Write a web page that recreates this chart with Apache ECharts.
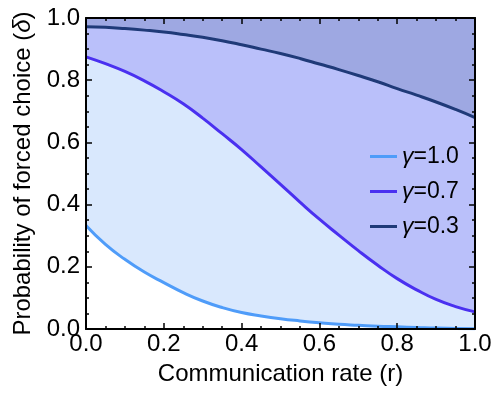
<!DOCTYPE html>
<html>
<head>
<meta charset="utf-8">
<script src="https://cdn.jsdelivr.net/npm/echarts@6/dist/echarts.min.js"></script>
<style>
  html, body { margin: 0; padding: 0; background: #fff; }
  #main { width: 498px; height: 394px; }
</style>
</head>
<body>
<div id="main"></div>
<script>
  // communication rate r
  const rate = [0, 0.05, 0.1, 0.15, 0.2, 0.25, 0.3, 0.35, 0.4, 0.45, 0.5,
    0.55, 0.6, 0.65, 0.7, 0.75, 0.8, 0.85, 0.9, 0.95, 1.0];
  // probability of forced choice for each gamma
  const gamma10 = [0.333, 0.272, 0.224, 0.183, 0.149, 0.117, 0.09, 0.069, 0.053, 0.042, 0.033,
    0.026, 0.02, 0.015, 0.012, 0.009, 0.007, 0.005, 0.003, 0.002, 0.001];
  const gamma07 = [0.875, 0.853, 0.828, 0.798, 0.763, 0.724, 0.678, 0.628, 0.577, 0.521, 0.465,
    0.408, 0.353, 0.302, 0.252, 0.205, 0.162, 0.126, 0.095, 0.072, 0.055];
  const gamma03 = [0.972, 0.97, 0.966, 0.961, 0.955, 0.947, 0.938, 0.927, 0.914, 0.9, 0.886,
    0.87, 0.852, 0.834, 0.815, 0.795, 0.773, 0.752, 0.73, 0.706, 0.68];
  const seriesNames = ["γ=1.0", "γ=0.7", "γ=0.3"];

  var chartDom = document.getElementById("main");
  var myChart = echarts.init(chartDom);
  var font = "Liberation Sans";
  var fs = 24;

  function pts(arr) {
    return rate.map((r, i) => [r, arr[i]]);
  }

  function makeAxis(pos, showLabel) {
    return {
      type: "value",
      position: pos,
      min: 0,
      max: 1,
      interval: 0.2,
      z: 10,
      axisLine: { show: true, onZero: false, lineStyle: { color: "#000", width: 2 } },
      axisTick: { show: true, inside: true, length: 6, lineStyle: { color: "#000", width: 1.5 } },
      minorTick: { show: true, splitNumber: 4, length: 3, lineStyle: { color: "#000", width: 1.5 } },
      splitLine: { show: false },
      axisLabel: {
        show: showLabel,
        color: "#000",
        fontFamily: font,
        fontSize: fs,
        margin: 3,
        formatter: (v) => v.toFixed(1),
      },
    };
  }

  var xBottom = makeAxis("bottom", true);
  xBottom.name = "Communication rate (r)";
  xBottom.nameLocation = "middle";
  xBottom.nameGap = 33;
  xBottom.nameTextStyle = { color: "#000", fontFamily: font, fontSize: fs };

  var yLeft = makeAxis("left", true);
  yLeft.axisLabel.margin = 6;
  yLeft.name = "Probability of forced choice ({i|δ})";
  yLeft.nameLocation = "middle";
  yLeft.nameGap = 48;
  yLeft.nameTextStyle = {
    color: "#000", fontFamily: font, fontSize: fs,
    rich: { i: { fontStyle: "italic", fontFamily: font, fontSize: fs, color: "#000" } },
  };

  var option = {
    animation: false,
    grid: {
      left: 86, right: 23, top: 18, bottom: 65,
      show: true, backgroundColor: "#9ea8e2", borderWidth: 0,
    },
    legend: {
      data: seriesNames,
      orient: "vertical",
      left: 365,
      top: 140,
      itemWidth: 27,
      itemHeight: 3,
      itemGap: 12,
      icon: "rect",
      textStyle: {
        color: "#000", fontFamily: font, fontSize: 23,
        rich: { i: { fontStyle: "italic", fontFamily: font, fontSize: 23, color: "#000" } },
      },
      formatter: (n) => "{i|γ}" + n.slice(1),
    },
    xAxis: [xBottom, makeAxis("top", false)],
    yAxis: [yLeft, makeAxis("right", false)],
    series: [
      {
        name: seriesNames[2], type: "line", data: pts(gamma03), symbol: "none",
        smooth: true, color: "#1f3a78",
        lineStyle: { width: 3, color: "#1f3a78" },
        areaStyle: { color: "#bac0fa", opacity: 1 },
      },
      {
        name: seriesNames[1], type: "line", data: pts(gamma07), symbol: "none",
        smooth: true, color: "#4a30f0",
        lineStyle: { width: 3, color: "#4a30f0" },
        areaStyle: { color: "#d9e8fd", opacity: 1 },
      },
      {
        name: seriesNames[0], type: "line", data: pts(gamma10), symbol: "none",
        smooth: true, color: "#4f9cf9",
        lineStyle: { width: 3, color: "#4f9cf9" },
        areaStyle: { color: "#ffffff", opacity: 1 },
      },
    ],
  };
  myChart.setOption(option);
</script>
</body>
</html>
